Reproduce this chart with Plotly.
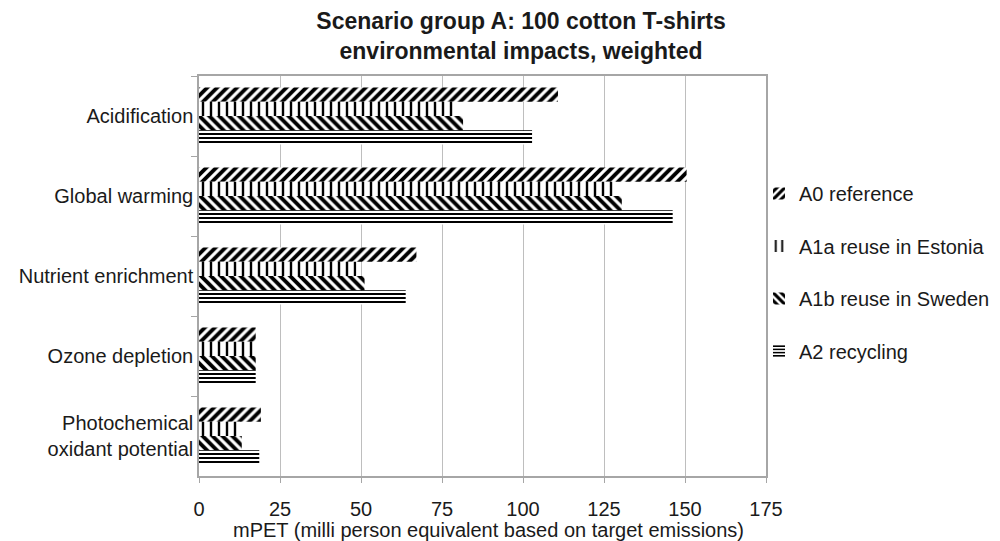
import plotly.graph_objects as go

categories = ["Acidification", "Global warming", "Nutrient enrichment",
              "Ozone depletion", "Photochemical<br>oxidant potential"]
series_names = ["A0 reference", "A1a reuse in Estonia",
                "A1b reuse in Sweden", "A2 recycling"]
a0_reference = [110.8, 150.5, 67.1, 17.5, 19.1]
a1a_estonia = [79.5, 128.7, 48.6, 17.3, 12.6]
a1b_sweden = [81.5, 130.5, 51.1, 17.5, 13.2]
a2_recycling = [102.8, 146.2, 63.8, 17.5, 18.6]
x_ticks = [0, 25, 50, 75, 100, 125, 150, 175]
x_title = "mPET (milli person equivalent based on target emissions)"

series_values = [a0_reference, a1a_estonia, a1b_sweden, a2_recycling]
patterns = [
    dict(shape="/", size=7, solidity=0.55),
    dict(shape="|", size=8, solidity=0.3),
    dict(shape="\\", size=7, solidity=0.55),
    dict(shape="-", size=4, solidity=0.5),
]

FONT = "Liberation Sans, Arial, Helvetica, sans-serif"
ML, MR, MT, MB = 199, 234, 76, 65
PW, PH = 1000 - ML - MR, 541 - MT - MB

fig = go.Figure()
for i, (name, vals, pat) in enumerate(zip(series_names, series_values, patterns)):
    fig.add_trace(go.Bar(
        y=categories, x=vals, name=name, orientation="h",
        legendgroup=f"g{i}",
        marker=dict(color="white", line=dict(width=0),
                    pattern=dict(fgcolor="black", bgcolor="white",
                                 fgopacity=1, fillmode="replace", **pat)),
    ))

fig.update_layout(
    width=1000, height=541,
    margin=dict(l=ML, r=MR, t=MT, b=MB, autoexpand=False),
    paper_bgcolor="white", plot_bgcolor="white",
    font=dict(family=FONT, size=20, color="#1a1a1a"),
    barmode="group", bargap=0.29, bargroupgap=0,
    title=dict(text="<b>Scenario group A: 100 cotton T-shirts<br>environmental impacts, weighted</b>",
               x=0.521, xref="container", xanchor="center",
               y=1 - 29 / 541, yref="container", yanchor="middle",
               font=dict(family=FONT, size=23, color="#1a1a1a")),
    legend=dict(x=0.759, xref="container", xanchor="left",
                y=1 - 174 / 541, yref="container", yanchor="top",
                traceorder="grouped", tracegroupgap=23.5,
                font=dict(family=FONT, size=20, color="#1a1a1a"),
                bgcolor="rgba(0,0,0,0)"),
    showlegend=True,
    annotations=[dict(text=x_title,
                      x=(488 - ML) / PW, xref="paper", xanchor="center",
                      y=(541 - MB - 530) / PH, yref="paper", yanchor="middle",
                      showarrow=False,
                      font=dict(family=FONT, size=20, color="#1a1a1a"))],
)
fig.update_xaxes(
    range=[0, 175], tickvals=x_ticks, ticktext=[str(t) for t in x_ticks],
    showgrid=True, gridcolor="#BEBEBE", gridwidth=1,
    showline=True, linecolor="#A6A6A6", linewidth=1.5, mirror=True,
    ticks="outside", ticklen=5, tickcolor="#A6A6A6",
    ticklabelstandoff=9, zeroline=False,
)
fig.update_yaxes(
    categoryorder="array", categoryarray=categories, autorange="reversed",
    showline=True, linecolor="#A6A6A6", linewidth=1.5, mirror=True,
    ticks="outside", ticklen=6, tickcolor="#A6A6A6", tickson="boundaries",
    showgrid=False,
)

fig.write_html("out.html")
